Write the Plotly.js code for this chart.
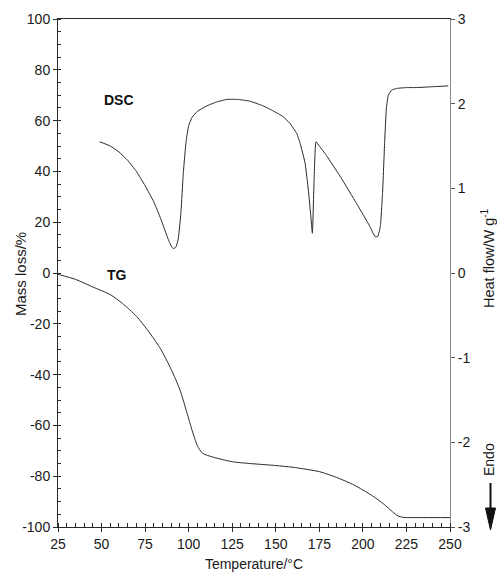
<!DOCTYPE html>
<html>
<head>
<meta charset="utf-8">
<script src="https://cdn.plot.ly/plotly-3.0.1.min.js"></script>
<style>html,body{margin:0;padding:0;background:#fff;}#chart{width:497px;height:575px;}</style>
</head>
<body>
<div id="chart"></div>
<script>
// TG curve (left axis, Mass loss/%)
const tgTemp = [25, 35, 45, 55, 62, 70, 77, 84, 90, 95, 99, 102, 105, 108, 114, 125, 135, 150, 160, 175, 185, 195, 205, 212, 217, 220, 223, 235, 250];
const tgMass = [-0.5, -2.5, -5.5, -8.5, -12, -17, -23, -30, -38, -46, -55, -62, -68, -71, -72.5, -74.3, -75, -75.8, -76.5, -78.2, -80.5, -83.5, -87.5, -91, -94, -95.6, -96.2, -96.3, -96.3];
// DSC curve (right axis, Heat flow/W g-1)
const dscTemp = [49, 55, 60, 65, 70, 75, 80, 84, 87, 89, 91, 92.5, 94, 95.5, 97, 98.5, 100, 102, 105, 110, 116, 122, 128, 135, 142, 148, 154, 158, 162, 164, 166.8, 168.7, 170, 171, 172, 173.1, 175, 179, 187, 196.4, 204, 207, 208.5, 210, 211.3, 212.5, 213.5, 214.6, 216.5, 219.4, 225, 231, 240, 249];
const dscFlow = [1.55, 1.50, 1.43, 1.33, 1.20, 1.03, 0.84, 0.64, 0.47, 0.36, 0.29, 0.30, 0.40, 0.70, 1.20, 1.55, 1.74, 1.84, 1.91, 1.97, 2.02, 2.05, 2.05, 2.03, 1.98, 1.92, 1.85, 1.77, 1.65, 1.53, 1.30, 0.98, 0.70, 0.47, 1.10, 1.55, 1.50, 1.39, 1.14, 0.82, 0.55, 0.43, 0.43, 0.55, 0.95, 1.55, 1.95, 2.10, 2.16, 2.18, 2.19, 2.19, 2.20, 2.21];
// axis ticks
const xTicks = [25, 50, 75, 100, 125, 150, 175, 200, 225, 250];
const yLeftTicks = [-100, -80, -60, -40, -20, 0, 20, 40, 60, 80, 100];
const yRightTicks = [-3, -2, -1, 0, 1, 2, 3];
const curveLabels = ["DSC", "TG"];

const FONT = "Liberation Sans, Arial, sans-serif";
const lineColor = "#2a2a2a";

const traces = [
  {x: tgTemp, y: tgMass, type: "scatter", mode: "lines", line: {color: lineColor, width: 1, shape: "spline", smoothing: 0.6}, yaxis: "y", hoverinfo: "skip"},
  {x: dscTemp, y: dscFlow, type: "scatter", mode: "lines", line: {color: lineColor, width: 1, shape: "spline", smoothing: 0.4}, yaxis: "y2", hoverinfo: "skip"}
];

const px2x = function (px) { return (px - 58) / 392; };
const px2y = function (py) { return (527 - py) / 508; };

const layout = {
  width: 497, height: 575,
  margin: {l: 58, r: 47, t: 19, b: 48},
  paper_bgcolor: "#fff", plot_bgcolor: "#fff",
  showlegend: false,
  font: {family: FONT, size: 13, color: "#1a1a1a"},
  xaxis: {
    range: [25, 250], tickvals: xTicks, ticktext: xTicks.map(String),
    showline: true, linecolor: lineColor, linewidth: 1, mirror: true,
    ticks: "outside", ticklen: 4, tickcolor: lineColor,
    minor: {dtick: 5, ticks: "inside", ticklen: 4, tickcolor: lineColor},
    showgrid: false, zeroline: false,
    tickfont: {family: FONT, size: 14},
    title: {text: "Temperature/°C", font: {family: FONT, size: 14}, standoff: 8}
  },
  yaxis: {
    range: [-100, 100], tickvals: yLeftTicks, ticktext: yLeftTicks.map(String),
    showline: true, linecolor: lineColor, linewidth: 1,
    ticks: "outside", ticklen: 4, tickcolor: lineColor,
    minor: {dtick: 5, ticks: "inside", ticklen: 3, tickcolor: lineColor},
    showgrid: false, zeroline: false,
    tickfont: {family: FONT, size: 14}
  },
  yaxis2: {
    range: [-3, 3], tickvals: yRightTicks, ticktext: yRightTicks.map(String),
    overlaying: "y", side: "right",
    showline: true, linecolor: "#8a8a8a", linewidth: 1,
    ticks: "outside", ticklen: 4, tickcolor: "#555",
    showgrid: false, zeroline: false,
    tickfont: {family: FONT, size: 14}
  },
  annotations: [
    {x: 60, y: 68, xref: "x", yref: "y", text: "<b>" + curveLabels[0] + "</b>", showarrow: false, font: {family: FONT, size: 14, color: "#111"}},
    {x: 59, y: -0.8, xref: "x", yref: "y", text: "<b>" + curveLabels[1] + "</b>", showarrow: false, font: {family: FONT, size: 14, color: "#111"}},
    {x: px2x(20), y: px2y(274), xref: "paper", yref: "paper", xanchor: "center", yanchor: "middle", text: "Mass loss/%", textangle: -90, showarrow: false, font: {family: FONT, size: 15, color: "#1a1a1a"}},
    {x: px2x(488), y: px2y(258), xref: "paper", yref: "paper", xanchor: "center", yanchor: "middle", text: "Heat flow/W g<sup>-1</sup>", textangle: -90, showarrow: false, font: {family: FONT, size: 14.5, color: "#1a1a1a"}},
    {x: px2x(489), y: px2y(460), xref: "paper", yref: "paper", xanchor: "center", yanchor: "middle", text: "Endo", textangle: -90, showarrow: false, font: {family: FONT, size: 14, color: "#111"}}
  ],
  shapes: [
    {type: "line", xref: "paper", yref: "paper", x0: px2x(490.5), x1: px2x(490.5), y0: px2y(483), y1: px2y(510), line: {color: "#111", width: 2}},
    {type: "path", xref: "paper", yref: "paper",
     path: "M " + px2x(485.5) + " " + px2y(508) + " L " + px2x(495.5) + " " + px2y(508) + " L " + px2x(490.5) + " " + px2y(530) + " Z",
     fillcolor: "#111", line: {color: "#111", width: 1}}
  ]
};

Plotly.newPlot("chart", traces, layout, {displayModeBar: false, staticPlot: true});
</script>
</body>
</html>
